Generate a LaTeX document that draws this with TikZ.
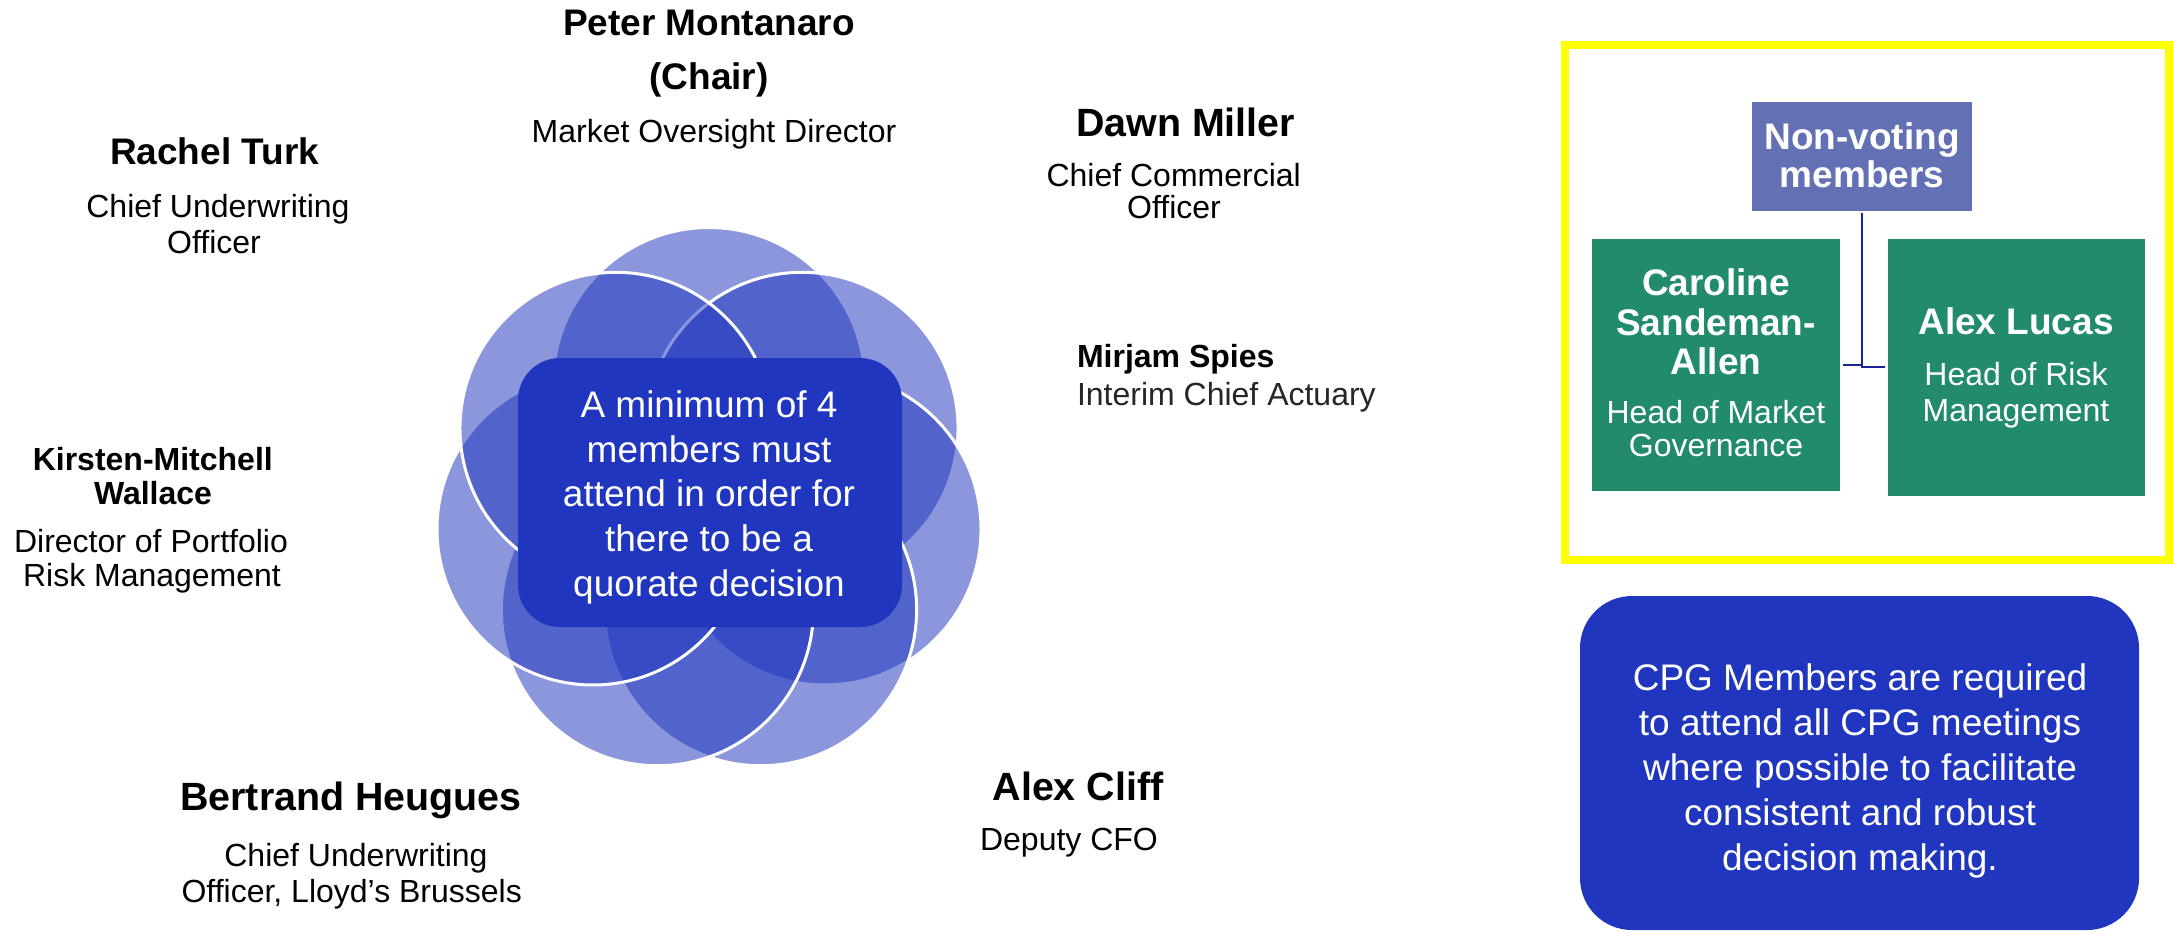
\documentclass[tikz,border=0pt]{standalone}
\usepackage{fontspec}
\setmainfont{Liberation Sans}
\definecolor{petalblue}{RGB}{33,54,190}
\definecolor{boxblue}{RGB}{33,54,190}
\definecolor{nvpurple}{RGB}{99,112,180}
\definecolor{mgreen}{RGB}{34,139,110}
\definecolor{connblue}{RGB}{26,36,150}
\definecolor{ybord}{RGB}{255,255,0}
\definecolor{greytext}{RGB}{38,38,38}
\begin{document}
\begin{tikzpicture}[x=1pt,y=-1pt,
  petal/.style={fill=petalblue, fill opacity=0.52, draw=white, draw opacity=1, line width=3pt},
  ln/.style={anchor=base, inner sep=0pt, outer sep=0pt},
  nmbig/.style={ln, font=\fontsize{39.4}{44}\selectfont\bfseries},
  nmmid/.style={ln, font=\fontsize{37}{44}\selectfont\bfseries},
  nmsmall/.style={ln, font=\fontsize{32}{38}\selectfont\bfseries},
  role/.style={ln, font=\fontsize{32}{38}\selectfont},
  boxtxt/.style={ln, text=white, font=\fontsize{37}{45}\selectfont},
  boxnm/.style={ln, text=white, font=\fontsize{37}{45}\selectfont\bfseries},
  boxrole/.style={ln, text=white, font=\fontsize{32}{38}\selectfont},
  panel/.style={inner sep=0pt, outer sep=0pt, anchor=north west},
  conn/.style={draw=connblue, line width=2pt}
]
\useasboundingbox (0,0) rectangle (2173,932);
\fill[white] (0,0) rectangle (2173,932);

% flower of seven circles
\foreach \k in {0,...,6}
  \path[petal] ({709+119*cos(-90+\k*360/7)},{502.5+119*sin(-90+\k*360/7)}) circle (156);

% central box
\node[panel, fill=boxblue, rounded corners=42pt, minimum width=384pt, minimum height=269pt] (quorum) at (518,358) {};
\node[boxtxt] (q1) at (709,417.4) {A minimum of 4};
\node[boxtxt] (q2) at (709,462.1) {members must};
\node[boxtxt] (q3) at (709,506.2) {attend in order for};
\node[boxtxt] (q4) at (709,551.3) {there to be a};
\node[boxtxt] (q5) at (709,596.1) {quorate decision};

% members around
\node[nmmid] (pm1) at (709,35) {Peter Montanaro};
\node[nmmid] (pm2) at (709,89) {(Chair)};
\node[role] (pm3) at (714,142.7) {Market Oversight Director};

\node[nmmid] (rt1) at (214.6,164) {Rachel Turk};
\node[role] (rt2) at (218,217) {Chief Underwriting};
\node[role] (rt3) at (214,253) {Officer};

\node[nmbig] (dm1) at (1185.5,136) {Dawn Miller};
\node[role] (dm2) at (1173.7,186.7) {Chief Commercial};
\node[role] (dm3) at (1174,218) {Officer};

\node[nmsmall, anchor=base west] (ms1) at (1077,367) {Mirjam Spies};
\node[role, anchor=base west, text=greytext] (ms2) at (1077,405) {Interim Chief Actuary};

\node[nmsmall] (kw1) at (152.8,470) {Kirsten-Mitchell};
\node[nmsmall] (kw2) at (153,504) {Wallace};
\node[role] (kw3) at (151,552) {Director of Portfolio};
\node[role] (kw4) at (152,586) {Risk Management};

\node[nmbig] (bh1) at (351,810) {Bertrand Heugues};
\node[role] (bh2) at (356,866.7) {Chief Underwriting};
\node[role] (bh3) at (351.7,902.7) {Officer, Lloyd’s Brussels};

\node[nmbig] (ac1) at (1078,800) {Alex Cliff};
\node[role] (ac2) at (1069,850) {Deputy CFO};

% non-voting panel
\node[panel, draw=ybord, line width=8pt, minimum width=604pt, minimum height=515pt] (frame) at (1565,45) {};
\node[panel, fill=nvpurple, minimum width=220pt, minimum height=109pt] (nv) at (1752,102) {};
\node[panel, fill=mgreen, minimum width=248pt, minimum height=252.4pt] (cs) at (1592,238.6) {};
\node[panel, fill=mgreen, minimum width=257pt, minimum height=257pt] (al) at (1888,238.6) {};
\draw[conn, shorten <=2pt, shorten >=3pt] (nv.south) -- (nv.south |- al.west) -- (al.west);
\draw[conn, shorten <=3pt] (cs.east) -- (cs.east -| nv.south);

\node[boxnm] (nv1) at (1862,149) {Non-voting};
\node[boxnm] (nv2) at (1862,187) {members};

\node[boxnm] (cs1) at (1716,295) {Caroline};
\node[boxnm] (cs2) at (1716,335) {Sandeman-};
\node[boxnm] (cs3) at (1716,374) {Allen};
\node[boxrole] (cs4) at (1716,423) {Head of Market};
\node[boxrole] (cs5) at (1716,456) {Governance};

\node[boxnm] (al1) at (2016,334) {Alex Lucas};
\node[boxrole] (al2) at (2016,385.6) {Head of Risk};
\node[boxrole] (al3) at (2016,421.3) {Management};

% attendance note
\node[panel, fill=boxblue, rounded corners=52pt, minimum width=559pt, minimum height=334pt] (note) at (1580,596) {};
\node[boxtxt] (n1) at (1860,690) {CPG Members are required};
\node[boxtxt] (n2) at (1860,735) {to attend all CPG meetings};
\node[boxtxt] (n3) at (1860,780) {where possible to facilitate};
\node[boxtxt] (n4) at (1860,825) {consistent and robust};
\node[boxtxt] (n5) at (1860,870) {decision making.};
\end{tikzpicture}
\end{document}
